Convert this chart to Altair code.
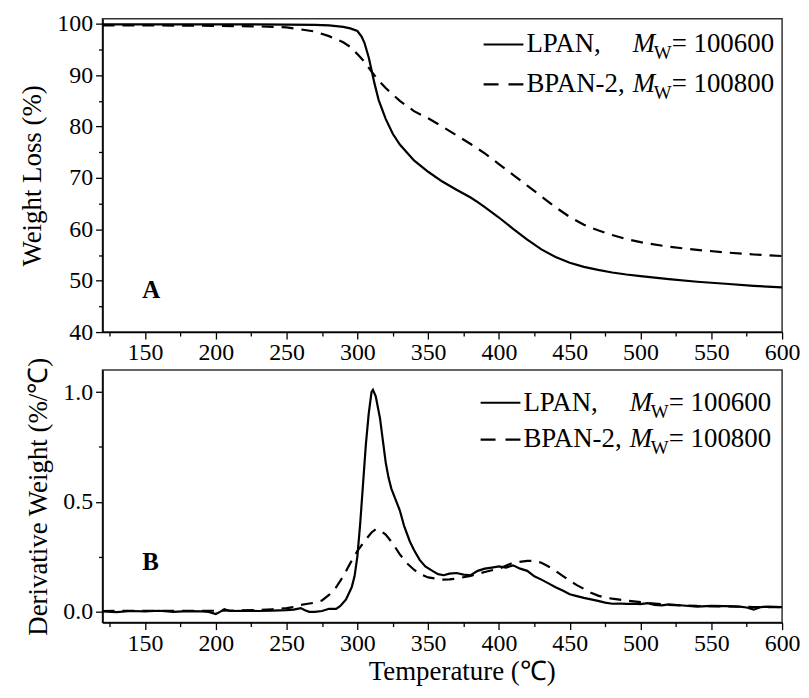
import altair as alt
import pandas as pd

FONT = "Liberation Serif"

# ---------------- data ----------------
# TGA, LPAN (solid)
lp_t = [120, 150, 200, 250, 270, 280, 290, 295, 300, 303, 305, 308, 310, 312, 315, 320, 325, 330, 340, 350,
        360, 370, 380, 385, 390, 400, 410, 420, 430, 440, 450, 460, 470, 480, 490, 500, 520, 540, 560, 580, 600]
lp_w = [99.9, 99.9, 99.9, 99.85, 99.8, 99.7, 99.4, 99.1, 98.6, 97.5, 96.3, 93.5, 91.0, 88.5, 85.2, 81.5, 78.6, 76.5,
        73.4, 71.2, 69.3, 67.7, 66.2, 65.3, 64.3, 62.3, 60.1, 58.0, 56.1, 54.6, 53.5, 52.7, 52.1, 51.6, 51.2, 50.9,
        50.3, 49.8, 49.4, 49.0, 48.7]

# TGA, BPAN-2 (dashed)
bp_t = [120, 150, 200, 230, 250, 270, 280, 290, 295, 300, 305, 310, 315, 320, 330, 340, 350, 360, 370, 380, 390,
        400, 410, 420, 430, 440, 450, 460, 470, 480, 490, 500, 520, 540, 560, 580, 600]
bp_w = [99.7, 99.7, 99.6, 99.5, 99.3, 98.5, 97.6, 96.4, 95.5, 94.1, 92.6, 90.7, 89.0, 87.5, 85.0, 83.0, 81.6, 80.0,
        78.3, 76.6, 74.8, 72.7, 70.6, 68.5, 66.4, 64.3, 62.4, 60.9, 59.8, 58.9, 58.1, 57.5, 56.6, 56.0, 55.5, 55.1,
        54.8]

# DTG, LPAN (solid)
lpd_t = [120, 130, 140, 150, 160, 170, 180, 190, 195, 200, 203, 206, 210, 220, 230, 240, 250, 255, 260, 263, 266,
         270, 275, 280, 285, 288, 292, 296, 298, 300, 302, 304, 306, 308, 310, 311, 313, 316, 318, 320, 322, 324,
         327, 330, 333, 337, 340, 344, 348, 353, 357, 361, 365, 370, 375, 380, 385, 390, 395, 400, 405, 410, 415,
         420, 425, 430, 435, 440, 445, 450, 455, 460, 465, 470, 475, 480, 485, 490, 495, 500, 505, 510, 515, 520,
         530, 540, 550, 560, 570, 575, 580, 585, 590, 600]
lpd_v = [0.0, -0.003, 0.002, 0.0, 0.003, -0.002, 0.001, 0.0, -0.002, -0.012, -0.002, 0.01, 0.002, 0.003, 0.002,
         0.004, 0.006, 0.008, 0.015, 0.005, -0.002, -0.002, 0.002, 0.012, 0.012, 0.025, 0.055, 0.11, 0.16, 0.25,
         0.40, 0.58, 0.76, 0.90, 1.0, 1.01, 0.98, 0.88, 0.78, 0.68, 0.61, 0.56, 0.51, 0.46, 0.39, 0.32, 0.28,
         0.235, 0.205, 0.185, 0.17, 0.165, 0.172, 0.175, 0.168, 0.165, 0.185, 0.195, 0.2, 0.205, 0.2, 0.21, 0.195,
         0.185, 0.16, 0.145, 0.128, 0.11, 0.095, 0.078, 0.07, 0.062, 0.055, 0.048, 0.04, 0.035, 0.036, 0.034,
         0.035, 0.033, 0.038, 0.03, 0.028, 0.032, 0.027, 0.022, 0.025, 0.024, 0.022, 0.018, 0.008, 0.02, 0.022,
         0.02]

# DTG, BPAN-2 (dashed)
bpd_t = [120, 150, 200, 230, 240, 250, 255, 260, 265, 270, 275, 280, 285, 290, 295, 300, 305, 310, 313, 316, 320,
         325, 330, 335, 340, 345, 350, 355, 360, 365, 370, 380, 390, 400, 410, 420, 425, 430, 435, 440, 445, 450,
         455, 460, 465, 470, 475, 480, 490, 500, 510, 520, 540, 560, 580, 600]
bpd_v = [0.002, 0.003, 0.003, 0.006, 0.01, 0.015, 0.02, 0.03, 0.035, 0.04, 0.05, 0.075, 0.11, 0.16, 0.22, 0.275,
         0.32, 0.36, 0.375, 0.37, 0.35, 0.31, 0.26, 0.22, 0.19, 0.168, 0.155, 0.15, 0.145, 0.146, 0.15, 0.162,
         0.18, 0.195, 0.222, 0.23, 0.23, 0.222, 0.205, 0.185, 0.162, 0.14, 0.12, 0.103, 0.085, 0.072, 0.063, 0.058,
         0.05, 0.042, 0.036, 0.03, 0.025, 0.023, 0.02, 0.02]

x_major = [150, 200, 250, 300, 350, 400, 450, 500, 550, 600]
x_minor = [125, 175, 225, 275, 325, 375, 425, 475, 525, 575]
yA_major = [40, 50, 60, 70, 80, 90, 100]
yA_minor = [45, 55, 65, 75, 85, 95]
yB_major = [0.0, 0.5, 1.0]
yB_minor = [0.25, 0.75]

series_names = ["LPAN,", "BPAN-2,"]
mw_values = ["= 100600", "= 100800"]

W = 683
H_A = 315
H_B = 254
DASH = [12, 8]
LEG_FS = 27


def panel(t1, v1, t2, v2, ydom, ymaj, ymin, ytitle, yfmt, height, xtitle, leg_y, leg_x0, letter, letter_y):
    d1 = pd.DataFrame({"T": t1, "V": v1})
    d2 = pd.DataFrame({"T": t2, "V": v2})
    xs = alt.Scale(domain=[120, 600], nice=False, zero=False)
    ys = alt.Scale(domain=ydom, nice=False, zero=False)

    xax = dict(values=x_major, orient="bottom", tickSize=7, tickWidth=1.3, labelPadding=2,
               domainWidth=1.5, grid=False, labelFlush=False)
    if xtitle:
        xax.update(title=xtitle, titlePadding=3, titleX=361, titleAlign="center")
    else:
        xax.update(title=None)
    solid = alt.Chart(d1).mark_line(color="black", strokeWidth=2.2, clip=True).encode(
        x=alt.X("T:Q", scale=xs, axis=alt.Axis(**xax)),
        y=alt.Y("V:Q", scale=ys, axis=alt.Axis(values=ymaj, orient="left", tickSize=7, tickWidth=1.3,
                                                 labelPadding=3, format=yfmt, title=ytitle, titlePadding=10,
                                                 domainWidth=1.5, grid=False, labelFlush=False)),
    )
    dashed = alt.Chart(d2).mark_line(color="black", strokeWidth=2.2, strokeDash=DASH, clip=True).encode(
        x=alt.X("T:Q", scale=xs, axis=None),
        y=alt.Y("V:Q", scale=ys, axis=None),
    )
    minor = alt.Chart(d1).mark_point(opacity=0).encode(
        x=alt.X("T:Q", scale=xs, axis=alt.Axis(values=x_minor, orient="bottom", tickSize=4, tickWidth=1.3,
                                               labels=False, domain=False, title=None, grid=False)),
        y=alt.Y("V:Q", scale=ys, axis=alt.Axis(values=ymin, orient="left", tickSize=4, tickWidth=1.3,
                                               labels=False, domain=False, title=None, grid=False)),
    )

    dummy = pd.DataFrame({"a": [0]})
    layers = [solid, dashed, minor]
    for i in range(2):
        y = leg_y[i]
        rule = alt.Chart(dummy).mark_rule(
            color="black", strokeWidth=2.2, strokeDash=([1, 0] if i == 0 else [15, 10])
        ).encode(x=alt.value(leg_x0), x2=alt.value(leg_x0 + 40), y=alt.value(y))
        name = alt.Chart(dummy).mark_text(text=series_names[i], font=FONT, fontSize=LEG_FS, align="left",
                                          baseline="middle", color="black").encode(
            x=alt.value(leg_x0 + 43), y=alt.value(y))
        m = alt.Chart(dummy).mark_text(text="M", font=FONT, fontSize=LEG_FS, fontStyle="italic", align="left",
                                       baseline="middle", color="black").encode(
            x=alt.value(leg_x0 + 150), y=alt.value(y))
        w = alt.Chart(dummy).mark_text(text="W", font=FONT, fontSize=19, align="left",
                                       baseline="middle", color="black").encode(
            x=alt.value(leg_x0 + 171), y=alt.value(y + 9))
        val = alt.Chart(dummy).mark_text(text=mw_values[i], font=FONT, fontSize=LEG_FS, align="left",
                                         baseline="middle", color="black").encode(
            x=alt.value(leg_x0 + 189), y=alt.value(y))
        layers += [rule, name, m, w, val]
    lab = alt.Chart(dummy).mark_text(text=letter, font=FONT, fontSize=25, fontWeight="bold", align="left",
                                     baseline="middle", color="black").encode(
        x=alt.value(40), y=alt.value(letter_y))
    layers.append(lab)
    return alt.layer(*layers).resolve_axis(x="independent", y="independent").properties(width=W, height=height)


top = panel(lp_t, lp_w, bp_t, bp_w, [40, 101], yA_major, yA_minor, "Weight Loss (%)", "d", H_A, None,
            [26, 66], 383, "A", 273)
bottom = panel(lpd_t, lpd_v, bpd_t, bpd_v, [-0.051, 1.101], yB_major, yB_minor, "Derivative Weight (%/℃)",
               ".1f", H_B, "Temperature (℃)", [33, 70], 380, "B", 193)

chart = alt.vconcat(top, bottom, spacing=38, bounds="flush").properties(
    padding={"left": 10, "top": 1, "right": 0, "bottom": 0},
    background="white",
).configure_view(
    stroke="#333333", strokeWidth=1.5
).configure_axis(
    labelFont=FONT, titleFont=FONT, labelFontSize=24, titleFontSize=27, labelColor="black",
    titleColor="black", domainColor="black", tickColor="black", titleFontWeight="normal"
)

chart.save("out.html", embed_options={"renderer": "svg", "actions": False})
